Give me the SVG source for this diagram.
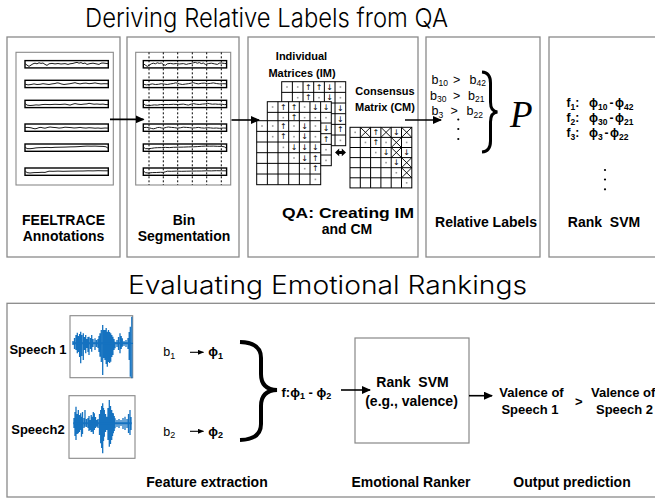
<svg xmlns="http://www.w3.org/2000/svg" width="655" height="499" viewBox="0 0 655 499">
<style>
.panel{fill:none;stroke:#8a8a8a;stroke-width:1.3}
.inner{fill:none;stroke:#8a8a8a;stroke-width:1.1}
.title{font-family:Inter,Roboto,"Liberation Sans",sans-serif;font-weight:300;fill:#000}
.lbl{font-family:"Liberation Sans",Arial,sans-serif;font-weight:bold;font-size:14px;text-anchor:middle;fill:#000}
.sm{font-family:"Liberation Sans",Arial,sans-serif;font-weight:bold;font-size:11px;text-anchor:middle;fill:#000}
.reg{font-family:"Liberation Sans",Arial,sans-serif;font-size:12.5px;fill:#000}
.bd{font-family:"Liberation Sans",Arial,sans-serif;font-weight:bold;font-size:12px;fill:#000}
.bd13{font-family:"Liberation Sans",Arial,sans-serif;font-weight:bold;font-size:13px;fill:#000}
.b14{font-family:"Liberation Sans",Arial,sans-serif;font-weight:bold;font-size:14px;text-anchor:middle;fill:#000}
.ar{font-family:"DejaVu Sans",sans-serif;font-size:8px;text-anchor:middle;dominant-baseline:central;fill:#000}
.conn{stroke:#000;stroke-width:1.6;fill:none}
.row{fill:#fff;stroke:#000;stroke-width:1.4}
.trace{fill:none;stroke:#1a1a1a;stroke-width:1}
.dash{stroke:#000;stroke-width:1;stroke-dasharray:2 2}
.wave{stroke:#1572c0;stroke-width:1.3;fill:none}
.xl{stroke:#000;stroke-width:0.9;fill:none}
</style>
<defs>
<marker id="ah" viewBox="0 0 9 8" refX="8" refY="4" markerWidth="9" markerHeight="8" markerUnits="userSpaceOnUse" orient="auto"><path d="M0 0L9 4L0 8z" fill="#000"/></marker>
<marker id="ahs" viewBox="0 0 6 5" refX="5.5" refY="2.5" markerWidth="6" markerHeight="5" markerUnits="userSpaceOnUse" orient="auto"><path d="M0 0L6 2.5L0 5z" fill="#000"/></marker>
<rect id="o" x="-0.8" y="-0.8" width="1.6" height="1.6" fill="#9a9a9a"/>
<g id="g6">
<rect x="0" y="0" width="64" height="64" fill="#fff" stroke="#000" stroke-width="1"/>
<path d="M10.67 0V64M21.33 0V64M32 0V64M42.67 0V64M53.33 0V64M0 10.67H64M0 21.33H64M0 32H64M0 42.67H64M0 53.33H64" stroke="#000" stroke-width="1"/>
</g>
<g id="traces">
<rect class="row" x="25" y="60.6" width="83.3" height="7.3"/>
<rect class="row" x="25" y="80.3" width="83.3" height="7.3"/>
<rect class="row" x="25" y="100.3" width="83.3" height="7.3"/>
<rect class="row" x="25" y="124" width="83.3" height="7.3"/>
<rect class="row" x="25" y="144" width="83.3" height="7.3"/>
<rect class="row" x="25" y="168" width="83.3" height="7.3"/>
<polyline class="trace" transform="translate(25,60.6)" points="0,3 2,4.5 4,5.8 6,4.5 8,3.2 10,2.6 12,3.2 14,2.2 16,2.8 18,2.4 20,3.8 22,4.8 24,3.2 27,2.8 30,3.3 33,2.9 36,3.4 40,3 43,3.8 45,3.2 48,2.8 50,2.2 52,1.8 54,2.6 56,2 58,3 60,2.4 62,3.8 65,3 68,2.6 71,3.2 74,3.8 76,2.6 78,2.4 81,2.8 83,3"/>
<polyline class="trace" transform="translate(25,80.3)" points="0,3.8 3,4.6 6,4.2 9,3.6 12,4.2 15,4 18,3.4 21,3.8 24,4.2 27,3.6 30,3.2 32,2.6 34,2.8 36,3.6 39,4.2 42,3.8 45,3.4 48,2.8 50,2.4 52,3 55,3.6 58,3 61,2.8 64,3.4 67,3.1 70,2.6 73,3.2 76,3.6 79,3.4 83,3.5"/>
<polyline class="trace" transform="translate(25,100.3)" points="0,3 2,4.8 5,5.2 8,5 11,4.6 14,4.8 17,4.3 20,4.1 25,4.3 30,4 35,4.2 40,3.8 43,4.4 45,4.8 48,3.8 50,3.3 53,3.9 56,4.2 59,3.8 62,3.6 64,3 66,3.4 69,3.9 72,3.7 75,4 78,3.8 81,4.3 83,4.2"/>
<polyline class="trace" transform="translate(25,124)" points="0,3.5 3,3.4 6,3.8 8,4.4 10,4.8 12,4.4 14,3.6 16,3.4 18,3.9 20,4.2 23,3.4 25,3 28,3.4 31,3.6 34,4.1 37,3.8 40,3.2 43,3.4 46,3.6 49,4 52,3.8 55,3.4 58,3.9 61,4.1 64,3.7 67,3.9 70,4.2 73,4 76,4.3 80,4 83,4.1"/>
<polyline class="trace" transform="translate(25,144)" points="0,3 2,4.6 5,4.7 8,4.4 11,3.9 14,3.7 18,3.6 22,3.4 26,3.6 30,3.3 35,3.2 40,3.1 45,2.9 50,2.8 54,2.6 58,2.3 62,2.1 66,2.2 70,2.1 74,2.3 78,2.4 81,2.8 83,4.2"/>
<polyline class="trace" transform="translate(25,168)" points="0,2.8 2,4.6 5,5 9,4.6 13,4.5 17,4.3 20,4.4 22,3.8 24,3.2 28,3.3 33,3.1 38,3.3 43,3.2 48,3.1 53,3 58,3 63,2.8 68,2.9 73,2.7 78,2.8 83,2.8"/>
</g>
</defs>

<text class="title" x="85" y="27" font-size="26" textLength="363" lengthAdjust="spacingAndGlyphs">Deriving Relative Labels from QA</text>
<text class="title" x="128" y="294" font-size="25" textLength="399" lengthAdjust="spacingAndGlyphs">Evaluating Emotional Rankings</text>

<g id="feeltrace">
<rect class="panel" x="7" y="37" width="113" height="220"/>
<rect class="inner" x="16" y="52.3" width="97.3" height="132.7"/>
<use href="#traces"/>
<text class="lbl" x="63.5" y="224.5" font-size="12.8">FEELTRACE</text>
<text class="lbl" x="63.5" y="241" font-size="13.5">Annotations</text>
</g>

<g id="bin-segmentation">
<rect class="panel" x="127" y="37" width="112" height="220"/>
<rect class="inner" x="135.7" y="52.3" width="95" height="132.7"/>
<use href="#traces" transform="translate(118.3,0)"/>
<path class="dash" d="M149 52.3V185M163.3 52.3V185M177.7 52.3V185M192.3 52.3V185M206.7 52.3V185M221.3 52.3V185"/>
<text class="lbl" x="184" y="224.5">Bin</text>
<text class="lbl" x="184" y="241">Segmentation</text>
</g>

<g id="qa">
<rect class="panel" x="248" y="37" width="170" height="220"/>
<text class="sm" x="301.5" y="59.5">Individual</text>
<text class="sm" x="302" y="77">Matrices (IM)</text>
<text class="sm" x="385" y="95">Consensus</text>
<text class="sm" x="385" y="110.5">Matrix (CM)</text>
<!-- back matrix -->
<use href="#g6" x="281.7" y="81.7"/>
<g>
<use href="#o" x="287" y="87"/><use href="#o" x="297.7" y="87"/><use href="#o" x="340.4" y="87"/>
<use href="#o" x="297.7" y="97.7"/><use href="#o" x="319" y="97.7"/><use href="#o" x="340.4" y="97.7"/>
<use href="#o" x="340.4" y="140.4"/>
<text class="ar" x="308.4" y="87">↑</text><text class="ar" x="319" y="87">↑</text><text class="ar" x="329.7" y="87">↓</text>
<text class="ar" x="308.4" y="97.7">↑</text><text class="ar" x="329.7" y="97.7">↓</text>
<text class="ar" x="340.4" y="108.4">↓</text><text class="ar" x="340.4" y="119">↓</text><text class="ar" x="340.4" y="129.7">↑</text>
</g>
<!-- middle matrix -->
<use href="#g6" x="267.3" y="101.7"/>
<g>
<use href="#o" x="272.6" y="107"/><use href="#o" x="304.6" y="107"/>
<use href="#o" x="283.3" y="117.7"/><use href="#o" x="304.6" y="117.7"/><use href="#o" x="315.3" y="117.7"/><use href="#o" x="326" y="117.7"/>
<use href="#o" x="326" y="149.7"/><use href="#o" x="326" y="160.4"/>
<text class="ar" x="283.3" y="107">↑</text><text class="ar" x="294" y="107">↑</text><text class="ar" x="315.3" y="107">↓</text><text class="ar" x="326" y="107">↓</text>
<text class="ar" x="294" y="117.7">↑</text>
<text class="ar" x="326" y="128.4">↓</text><text class="ar" x="326" y="139">↑</text>
</g>
<!-- front matrix -->
<use href="#g6" x="256.7" y="120.7"/>
<g>
<use href="#o" x="262" y="126"/><use href="#o" x="272.7" y="126"/><use href="#o" x="294" y="126"/><use href="#o" x="315.4" y="126"/>
<use href="#o" x="272.7" y="136.7"/><use href="#o" x="294" y="136.7"/><use href="#o" x="315.4" y="136.7"/>
<use href="#o" x="283.4" y="147.4"/><use href="#o" x="294" y="158"/><use href="#o" x="304.7" y="168.7"/><use href="#o" x="315.4" y="179.4"/>
<text class="ar" x="283.4" y="126">↑</text><text class="ar" x="283.4" y="136.7">↑</text><text class="ar" x="315.4" y="158">↑</text><text class="ar" x="315.4" y="168.7">↑</text>
<text class="ar" x="304.7" y="126">↓</text><text class="ar" x="304.7" y="136.7">↓</text><text class="ar" x="294" y="147.4">↓</text><text class="ar" x="304.7" y="147.4">↓</text><text class="ar" x="315.4" y="147.4">↓</text><text class="ar" x="304.7" y="158">↓</text>
</g>
<!-- double arrow -->
<path d="M335 152.4L339.2 148.6V150.9H341.8V148.6L346 152.4L341.8 156.2V153.9H339.2V156.2Z" fill="#000"/>
<!-- consensus matrix -->
<rect x="350" y="127.3" width="61.8" height="60.6" fill="#fff" stroke="#000" stroke-width="1"/>
<path d="M360.3 127.3V187.9M370.6 127.3V187.9M380.9 127.3V187.9M391.2 127.3V187.9M401.5 127.3V187.9M350 137.4H411.8M350 147.5H411.8M350 157.6H411.8M350 167.7H411.8M350 177.8H411.8" stroke="#000" stroke-width="1"/>
<path class="xl" d="M360.3 127.3L370.6 137.4M370.6 127.3L360.3 137.4M380.9 127.3L391.2 137.4M391.2 127.3L380.9 137.4M401.5 127.3L411.8 137.4M411.8 127.3L401.5 137.4M391.2 137.4L401.5 147.5M401.5 137.4L391.2 147.5M391.2 147.5L401.5 157.6M401.5 147.5L391.2 157.6M401.5 157.6L411.8 167.7M411.8 157.6L401.5 167.7M401.5 167.7L411.8 177.8M411.8 167.7L401.5 177.8"/>
<use href="#o" x="355.15" y="132.35"/><use href="#o" x="365.45" y="142.45"/><use href="#o" x="386.05" y="142.45"/><use href="#o" x="406.65" y="142.45"/>
<use href="#o" x="375.75" y="152.55"/><use href="#o" x="386.05" y="162.65"/><use href="#o" x="396.35" y="172.75"/><use href="#o" x="406.65" y="182.85"/>
<text class="ar" x="375.75" y="132.35">↑</text><text class="ar" x="375.75" y="142.45">↑</text>
<text class="ar" x="396.35" y="132.35">↓</text><text class="ar" x="386.05" y="152.55">↓</text><text class="ar" x="406.65" y="152.55">↓</text><text class="ar" x="396.35" y="162.65">↓</text>
<text class="lbl" x="348" y="218" font-size="15" textLength="132" lengthAdjust="spacingAndGlyphs">QA: Creating IM</text>
<text class="lbl" x="347" y="234">and CM</text>
</g>

<g id="relative-labels">
<rect class="panel" x="426" y="37" width="114" height="220"/>
<text class="reg" y="83.5"><tspan x="431.5">b</tspan><tspan font-size="8.5" dy="2.5">10</tspan><tspan x="453" dy="-2.5">&gt;</tspan><tspan x="469.5">b</tspan><tspan font-size="8.5" dy="2.5">42</tspan></text>
<text class="reg" y="99.5"><tspan x="430">b</tspan><tspan font-size="8.5" dy="2.5">30</tspan><tspan x="453" dy="-2.5">&gt;</tspan><tspan x="468">b</tspan><tspan font-size="8.5" dy="2.5">21</tspan></text>
<text class="reg" y="115"><tspan x="431.5">b</tspan><tspan font-size="8.5" dy="2.5">3</tspan><tspan x="450.5" dy="-2.5">&gt;</tspan><tspan x="466.5">b</tspan><tspan font-size="8.5" dy="2.5">22</tspan></text>
<circle cx="458.3" cy="119.5" r="1.1"/><circle cx="458.3" cy="129" r="1.1"/><circle cx="458.3" cy="139" r="1.1"/>
<path d="M482 72Q490.5 72.5 490.5 83V102Q490.5 111.5 497.5 112Q490.5 112.5 490.5 122V141Q490.5 151.5 482 152" fill="none" stroke="#000" stroke-width="3"/>
<text x="510" y="126.5" font-family="'Liberation Serif',serif" font-style="italic" font-size="37">P</text>
<text class="lbl" x="486" y="227" font-size="14.3">Relative Labels</text>
</g>

<g id="rank-svm">
<rect class="panel" x="549" y="37" width="112" height="220"/>
<text class="bd" y="107"><tspan x="566.5">f</tspan><tspan font-size="8.5" dy="2.5">1</tspan><tspan dy="-2.5">:</tspan><tspan x="589">ϕ</tspan><tspan font-size="8.5" dy="2.5">10</tspan><tspan x="609.5" dy="-2.5">-</tspan><tspan x="615">ϕ</tspan><tspan font-size="8.5" dy="2.5">42</tspan></text>
<text class="bd" y="122"><tspan x="566.5">f</tspan><tspan font-size="8.5" dy="2.5">2</tspan><tspan dy="-2.5">:</tspan><tspan x="589">ϕ</tspan><tspan font-size="8.5" dy="2.5">30</tspan><tspan x="609.5" dy="-2.5">-</tspan><tspan x="615">ϕ</tspan><tspan font-size="8.5" dy="2.5">21</tspan></text>
<text class="bd" y="137"><tspan x="566.5">f</tspan><tspan font-size="8.5" dy="2.5">3</tspan><tspan dy="-2.5">:</tspan><tspan x="589">ϕ</tspan><tspan font-size="8.5" dy="2.5">3</tspan><tspan x="604.5" dy="-2.5">-</tspan><tspan x="610">ϕ</tspan><tspan font-size="8.5" dy="2.5">22</tspan></text>
<circle cx="605" cy="170" r="1.1"/><circle cx="605" cy="179.5" r="1.1"/><circle cx="605" cy="189.3" r="1.1"/>
<text class="lbl" x="604" y="227" xml:space="preserve" style="white-space:pre">Rank  SVM</text>
</g>

<g id="evaluation">
<rect class="panel" x="7" y="303.3" width="660" height="193.7"/>
</g>

<g id="speech1">
<text class="bd13" x="38" y="354" text-anchor="middle">Speech 1</text>
<rect x="70" y="315.7" width="62.7" height="62" fill="#fff" stroke="#888" stroke-width="1.1"/>
<path class="wave" d="M72.7 343.3H133M73 341V345M74.5 338V349M76 335V350M77.3 332.7V353.3M78.5 336V352M79.6 334V357M80.7 331.7V363.3M81.8 335V356M83.3 333.3V360M84.5 337V350M85.7 335V353.3M87 339V348M88 337V352M89 336.7V355M90.5 338V349M91.7 335V351.7M93 339V347M95 338.3V350M96.5 340V347M98 339V348M99 336V352M100 333.3V356.7M101.3 330V362M102.7 325V375M103.8 330V358M105 330V360M106.2 328V364M107.3 331.7V366.7M108.5 330V362M109.6 332V363M110.7 333.3V361.7M111.8 335V357M112.9 336.7V355M114 339V350M115 341.7V348.3M117 340V347M118.5 337V350M120 333.3V353.3M121.2 336V349M122.3 338.3V346.7M124 341V346M126 340V347M128 338V349M129.2 332V360M130.3 326.7V376.7M131.8 316.7V378.3"/>
<path d="M72.7 343.3H131" stroke="#1572c0" stroke-width="2"/>
</g>

<g id="speech2">
<text class="bd13" x="38" y="434.3" text-anchor="middle">Speech2</text>
<rect x="69" y="395.7" width="66" height="62.6" fill="#fff" stroke="#888" stroke-width="1.1"/>
<path class="wave" d="M74 418V428M75 412V436M76 406.7V440M77.2 414V434M78.3 410V433.3M79.5 415V432M80.7 413.3V430M81.5 416.7V436.7M82.5 412V434M84 418V428M85 410V426.7M86.5 419V427M88 418V428M89 416V431M90 420V430M91.2 415V432M92.3 416.7V431.7M93.3 412V434M94.3 413.3V430M95.5 417V428M96.7 420V426.7M98 419V428M99.5 414V435M100.7 410V443.3M101.7 406V448M102.7 403.3V453.3M103.5 408V441M104.3 410V436.7M105.5 414V432M106.7 416.7V430M108 408V440M109.3 400V446.7M110.5 406V444M111.7 410V440M112.5 413V436M113.3 413.3V433.3M114.2 416V431M115 418.3V428.3M117 420V427M119 419V428M121 420V426M123 418V429M125 416.7V430M127 419V428M128.5 414V433M130 410V435M131 417V430"/>
<path d="M73.3 423.3H131.7" stroke="#1572c0" stroke-width="2"/>
</g>

<g id="features">
<text class="reg" font-size="13" y="356"><tspan x="163.3">b</tspan><tspan font-size="9" dy="2.5">1</tspan></text>
<text class="bd13" y="356"><tspan x="208.3">ϕ</tspan><tspan font-size="9" dy="2.5">1</tspan></text>
<text class="reg" font-size="13" y="435.5"><tspan x="163.3">b</tspan><tspan font-size="9" dy="2.5">2</tspan></text>
<text class="bd13" y="435.5"><tspan x="208.3">ϕ</tspan><tspan font-size="9" dy="2.5">2</tspan></text>
<path d="M240 342Q261 342.5 261 358V374Q261 389.5 277 390Q261 390.5 261 406V424Q261 439.5 240 440" fill="none" stroke="#000" stroke-width="4"/>
<text class="bd13" y="396.5"><tspan x="281.5">f:ϕ</tspan><tspan font-size="9" dy="2.5">1</tspan><tspan dy="-2.5"> - ϕ</tspan><tspan font-size="9" dy="2.5">2</tspan></text>
<text class="b14" x="207" y="487">Feature extraction</text>
</g>

<g id="ranker">
<rect x="355" y="338" width="114" height="105" fill="none" stroke="#888" stroke-width="1.2"/>
<text class="b14" x="412.5" y="387" xml:space="preserve" style="white-space:pre">Rank  SVM</text>
<text class="b14" x="411.5" y="406">(e.g., valence)</text>
<text class="b14" x="411" y="487">Emotional Ranker</text>
</g>

<g id="output">
<text class="bd13" x="531.5" y="396.7" text-anchor="middle">Valence of</text>
<text class="bd13" x="530" y="414" text-anchor="middle">Speech 1</text>
<text class="bd13" x="575" y="406">&gt;</text>
<text class="bd13" x="591" y="396.7" font-size="12">Valence of</text>
<text class="bd13" x="596" y="414">Speech 2</text>
<text class="b14" x="572" y="487">Output prediction</text>
</g>

<g id="connectors">
<path class="conn" d="M110 119.4H143.5" marker-end="url(#ah)"/>
<path class="conn" d="M231.5 120H259" marker-end="url(#ah)"/>
<path class="conn" d="M405 120H441" marker-end="url(#ah)"/>
<path d="M190 352.3H203.5" stroke="#000" stroke-width="1.1" marker-end="url(#ahs)"/>
<path d="M190 431.3H203.5" stroke="#000" stroke-width="1.1" marker-end="url(#ahs)"/>
<path class="conn" d="M341 390H370" marker-end="url(#ah)"/>
<path class="conn" d="M469 395.7H492" marker-end="url(#ah)"/>
</g>
</svg>
